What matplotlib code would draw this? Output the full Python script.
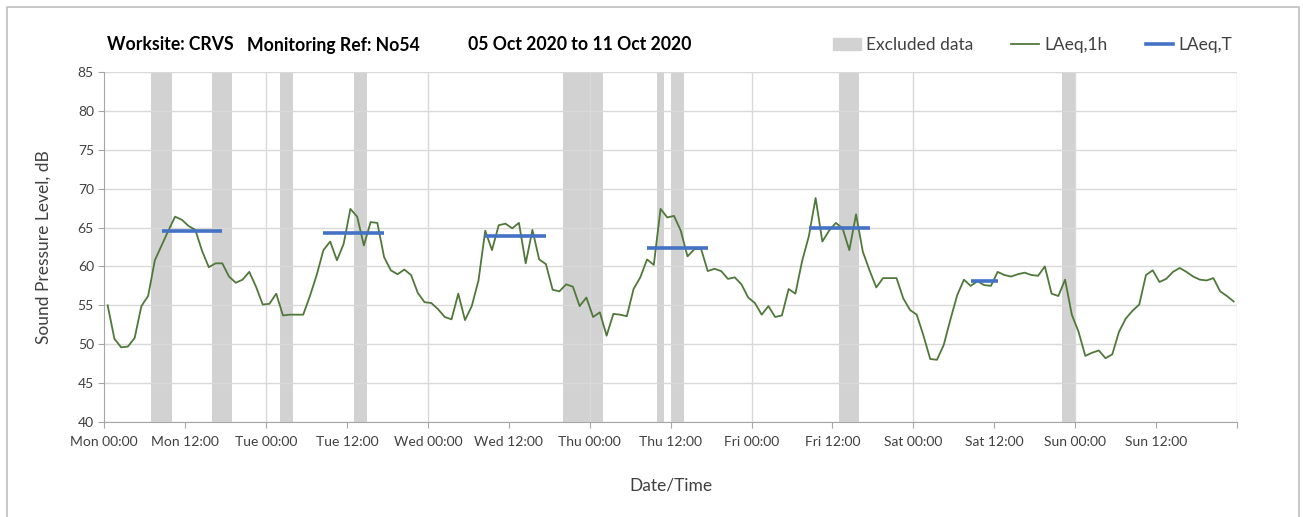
import matplotlib
matplotlib.use('Agg')
import matplotlib.pyplot as plt
from matplotlib.patches import Patch
from matplotlib.lines import Line2D
import numpy as np

plt.rcParams['font.family'] = ['Lato', 'DejaVu Sans']

# hourly LAeq,1h, Mon 00:00 -> Sun 23:00 (168 values)
laeq_1h = [
    55.0, 50.7, 49.6, 49.7, 50.8, 54.9, 56.2, 60.8, 62.7, 64.6, 66.4, 66.0,
    65.2, 64.7, 62.0, 59.9, 60.4, 60.4, 58.7, 57.9, 58.3, 59.3, 57.4, 55.1,
    55.2, 56.5, 53.7, 53.8, 53.8, 53.8, 56.2, 58.9, 62.1, 63.2, 60.8, 62.9,
    67.4, 66.4, 62.7, 65.7, 65.6, 61.2, 59.5, 59.0, 59.6, 58.9, 56.6, 55.4,
    55.3, 54.5, 53.5, 53.2, 56.5, 53.1, 54.9, 58.2, 64.6, 62.1, 65.3, 65.5,
    64.9, 65.6, 60.4, 64.7, 60.9, 60.3, 57.0, 56.8, 57.7, 57.4, 54.9, 56.0,
    53.5, 54.1, 51.1, 53.9, 53.8, 53.6, 57.1, 58.6, 60.9, 60.2, 67.4, 66.3,
    66.5, 64.6, 61.3, 62.2, 62.3, 59.4, 59.7, 59.4, 58.4, 58.6, 57.7, 56.0,
    55.3, 53.8, 54.9, 53.5, 53.7, 57.1, 56.5, 60.7, 63.9, 68.8, 63.2, 64.6,
    65.6, 64.9, 62.1, 66.7, 61.9, 59.5, 57.3, 58.5, 58.5, 58.5, 55.9, 54.4,
    53.8, 51.1, 48.1, 48.0, 49.9, 53.2, 56.3, 58.3, 57.5, 58.1, 57.6, 57.5,
    59.3, 58.9, 58.7, 59.0, 59.2, 58.9, 58.8, 60.0, 56.5, 56.2, 58.3, 53.8,
    51.6, 48.5, 48.9, 49.2, 48.2, 48.7, 51.6, 53.3, 54.3, 55.1, 58.9, 59.5,
    58.0, 58.4, 59.3, 59.8, 59.3, 58.7, 58.3, 58.2, 58.5, 56.8, 56.2, 55.5,
]

# hours (from Mon 00:00) flagged as excluded
excluded_hours = [7, 8, 9, 16, 17, 18, 26, 27, 37, 38,
                  68, 69, 70, 71, 72, 73, 82, 84, 85, 109, 110, 111, 142, 143]

# LAeq,T periods: first hour, last hour, level
period_start = [8, 32, 56, 80, 104, 128]
period_end = [17, 41, 65, 89, 113, 132]
period_level = [64.6, 64.3, 63.9, 62.4, 65.0, 58.1]

tick_labels = ['Mon 00:00', 'Mon 12:00', 'Tue 00:00', 'Tue 12:00', 'Wed 00:00', 'Wed 12:00',
               'Thu 00:00', 'Thu 12:00', 'Fri 00:00', 'Fri 12:00', 'Sat 00:00', 'Sat 12:00',
               'Sun 00:00', 'Sun 12:00', '']

GREEN = '#50783a'
BLUE = '#4472c4'
BAND = '#d2d2d2'
GRID = '#d9d9d9'
TXT = '#404040'

fig = plt.figure(figsize=(13.03, 5.17), dpi=100)
ax = fig.add_axes([104.3/1303, 1-422/517, (1237-104.3)/1303, 350/517])

t = np.arange(len(laeq_1h)) + 0.5
ax.bar(excluded_hours, 45, bottom=40, width=1, align='edge', color=BAND, zorder=0.2, linewidth=0)
ax.plot(t, laeq_1h, color=GREEN, linewidth=1.3, zorder=3)
for s, e, lv in zip(period_start, period_end, period_level):
    ax.plot([s+0.5, e+0.5], [lv, lv], color=BLUE, linewidth=2.6, zorder=4, solid_capstyle='butt')

ax.set_xlim(0, 168)
ax.set_ylim(40, 85)
ax.set_yticks(np.arange(40, 86, 5))
ax.set_xticks(np.arange(0, 169, 12))
ax.set_xticklabels(tick_labels)
ax.set_axisbelow(True)
ax.grid(axis='y', color=GRID, linewidth=1, zorder=0.5)
for d in range(24, 169, 24):
    ax.axvline(d, color=GRID, linewidth=1, zorder=0.5)
for side in ['top', 'right']:
    ax.spines[side].set_visible(False)
for side in ['left', 'bottom']:
    ax.spines[side].set_color('#a6a6a6')
ax.tick_params(axis='both', direction='out', length=4, color='#a6a6a6', labelcolor=TXT, labelsize=10)
ax.tick_params(axis='x', pad=6)

ax.set_ylabel('Sound Pressure Level, dB', fontsize=12.5, color=TXT, labelpad=19)
ax.set_xlabel('Date/Time', fontsize=12.5, color=TXT, labelpad=21)

# heading
ty = 1 - 45/517
fig.text(107/1303, ty, 'Worksite: CRVS', fontsize=12.7, fontweight='bold', va='center')
fig.text(247/1303, ty, 'Monitoring Ref: No54', fontsize=12.7, fontweight='bold', va='center')
fig.text(468/1303, ty, '05 Oct 2020 to 11 Oct 2020', fontsize=12.7, fontweight='bold', va='center')

handles = [Patch(color=BAND), Line2D([], [], color=GREEN, linewidth=1.3),
           Line2D([], [], color=BLUE, linewidth=2.6)]
fig.legend(handles, ['Excluded data', 'LAeq,1h', 'LAeq,T'], loc='center right',
           bbox_to_anchor=(1248/1303, 1-45/517), ncol=3, frameon=False, fontsize=12.5,
           handlelength=1.6, handletextpad=0.3, columnspacing=2.2, labelcolor=TXT)

# outer chart frame
fx0, fx1, fy1 = 7/1303, 1299/1303, 1-7/517
fig.add_artist(Line2D([fx0, fx0, fx1, fx1], [0, fy1, fy1, 0], color='#bfbfbf', linewidth=1.2,
                      transform=fig.transFigure))

plt.savefig('out.png', dpi=100)
